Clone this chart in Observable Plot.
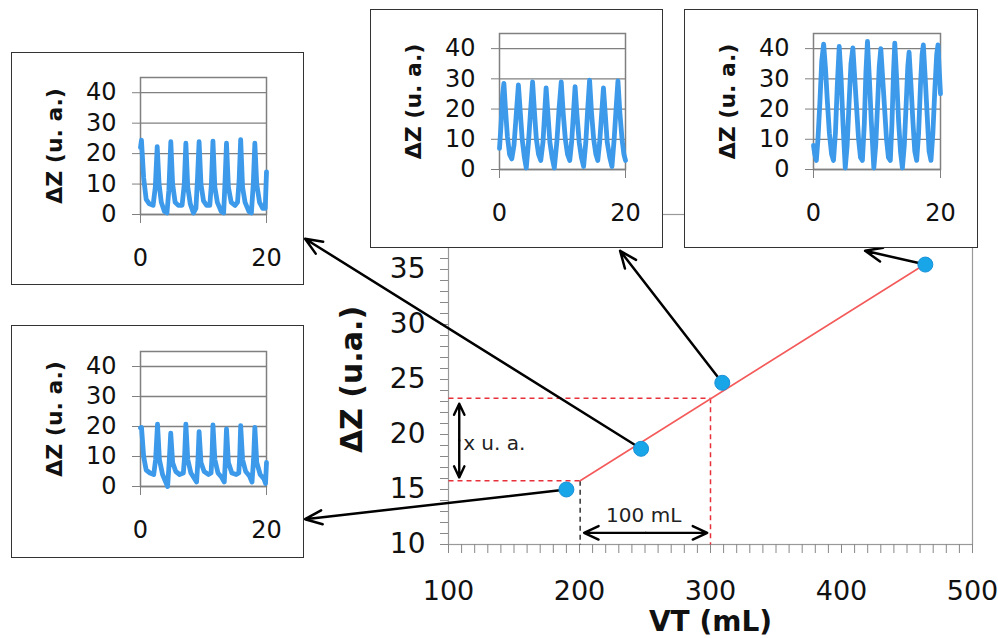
<!DOCTYPE html>
<html><head><meta charset="utf-8">
<script src="https://cdn.jsdelivr.net/npm/d3@7"></script>
<script src="https://cdn.jsdelivr.net/npm/@observablehq/plot@0.6"></script>
<style>
body{margin:0;background:#fff;}
#wrap{position:relative;width:998px;height:638px;overflow:hidden;font-family:"DejaVu Sans",sans-serif;}
#wrap svg{display:block;}
.main{position:absolute;left:0;top:0;}
.inset{position:absolute;background:#fff;outline:1.5px solid #333;outline-offset:-1px;}
</style></head><body><div id="wrap"></div>
<script>
// ---- main chart data ----
const vtPoints = [190, 247, 309, 464];
const dzPoints = [15.0, 18.7, 24.7, 35.45];
const fitVT = [200.5, 464];
const fitDZ = [15.8, 35.5];
const guideVT = [200.5, 300];
const guideDZ = [15.8, 23.3];
const arrowTipVT = [-9.5, -9.5, 231, 418];
const arrowTipDZ = [12.3, 37.8, 36.7, 36.7];
const xTicks = [100, 200, 300, 400, 500];
const yTicks = [10, 15, 20, 25, 30, 35];
const spanDZ = [16.1, 22.8];   // "x u. a." double arrow
const spanDZAt = 108.2;
const spanVT = [203.5, 297.5]; // "100 mL" double arrow
const spanVTAt = 11.06;

// ---- inset data (time s, ΔZ u.a.) ----
const insetXTicks = [0, 20];
const insetYTicks = [0, 10, 20, 30, 40];
const sigTopLeft = [[0,22],[0.15,24.4],[0.5,12],[0.9,5],[1.4,3.5],[2.0,3],[2.35,9],[2.65,22.3],[2.95,10],[3.3,4],[3.8,1],[4.2,0.5],[4.5,8],[4.81,23.9],[5.1,10],[5.5,4],[6.0,3],[6.6,3],[6.95,10],[7.2,23.4],[7.5,9],[7.9,3.5],[8.4,0.5],[8.8,2],[9.05,12],[9.3,23.9],[9.6,10],[10.0,4.5],[10.5,3],[11.0,3],[11.25,10],[11.5,24.1],[11.8,9],[12.2,4],[12.8,1],[13.2,0.5],[13.4,10],[13.65,23.4],[13.95,9],[14.4,4],[15.0,3],[15.4,4],[15.65,11],[15.9,24.6],[16.2,9],[16.6,4],[17.2,1],[17.6,0.5],[17.9,10],[18.15,23.4],[18.45,10],[18.9,4],[19.4,2],[19.8,2],[20,14]];
const sigBottomLeft = [[0,19.5],[0.16,19.7],[0.5,10],[0.9,5.5],[1.5,4.5],[2.1,4],[2.4,9],[2.7,20.8],[3.0,9],[3.5,4],[4.0,1.5],[4.3,0],[4.55,8],[4.8,17.8],[5.1,8],[5.6,5],[6.2,4],[6.8,4.5],[7.0,10],[7.2,20.8],[7.5,9],[8.0,4.5],[8.6,2.5],[8.9,1.5],[9.1,8],[9.3,18.3],[9.6,8],[10.1,5],[10.8,4],[11.2,4.5],[11.35,10],[11.5,20.5],[11.8,9],[12.3,4.5],[12.9,3],[13.3,1.5],[13.45,8],[13.65,19.2],[13.95,8],[14.5,4.5],[15.2,4],[15.6,4.5],[15.75,10],[15.9,20.3],[16.2,9],[16.7,5],[17.3,3.5],[17.7,1.5],[17.95,9],[18.15,19.7],[18.45,8],[19.0,4],[19.6,2.5],[19.85,1],[20,8]];
const sigTopMid = [[0,7],[0.25,15],[0.5,25],[0.7,28.5],[0.95,20],[1.25,11],[1.6,5],[1.95,3.5],[2.3,8],[2.65,18],[3.0,28],[3.3,19],[3.6,10],[3.95,4],[4.25,0.5],[4.6,9],[4.95,20],[5.25,29],[5.55,19],[5.85,10],[6.2,5],[6.55,3],[6.9,9],[7.15,18],[7.4,27],[7.7,18],[8.0,9],[8.35,4],[8.7,0.5],[9.1,9],[9.45,20],[9.8,29],[10.1,19],[10.45,10],[10.8,5],[11.15,3],[11.45,9],[11.75,19],[12.0,27.4],[12.3,18],[12.65,9],[13.0,4],[13.35,1],[13.7,9],[14.0,20],[14.3,29.6],[14.6,19],[14.95,10],[15.3,5],[15.6,3],[15.9,9],[16.2,18],[16.5,27],[16.8,18],[17.1,9],[17.5,4],[17.85,1],[18.2,10],[18.5,20],[18.8,29.3],[19.1,19],[19.45,10],[19.75,5],[20,3]];
const sigTopRight = [[0,8],[0.2,5],[0.45,3],[0.7,10],[1.0,22],[1.3,36],[1.6,41.5],[1.9,33],[2.2,22],[2.5,12],[2.85,5],[3.15,3],[3.45,12],[3.75,28],[4.05,40.7],[4.35,30],[4.65,15],[5.0,0.5],[5.3,8],[5.6,22],[5.9,35],[6.2,40.2],[6.5,30],[6.8,20],[7.1,10],[7.4,4],[7.7,3],[8.0,15],[8.25,32],[8.5,42.4],[8.8,30],[9.1,16],[9.5,0.5],[9.8,8],[10.1,22],[10.35,34],[10.6,40],[10.9,30],[11.2,20],[11.5,10],[11.8,4],[12.1,3],[12.35,15],[12.6,32],[12.8,41.8],[13.1,30],[13.4,16],[13.7,6],[14.0,0.5],[14.3,8],[14.6,22],[14.85,34],[15.05,38.8],[15.35,28],[15.65,16],[15.95,6],[16.25,3],[16.55,12],[16.85,28],[17.1,38],[17.3,41.2],[17.6,30],[17.9,18],[18.2,6],[18.5,3],[18.8,12],[19.1,26],[19.4,38],[19.6,41.2],[19.8,33],[20,25]];

const FONT = "DejaVu Sans";
const wrap = document.getElementById("wrap");

// ---- main chart ----
const pts = vtPoints.map((x, i) => ({x, y: dzPoints[i]}));
const fit = fitVT.map((x, i) => ({x, y: fitDZ[i]}));
const arrows = pts.map((p, i) => ({x1: p.x, y1: p.y, x2: arrowTipVT[i], y2: arrowTipDZ[i]}));
const xMin = xTicks[0];
const yMin = yTicks[0];
const midDZ = (spanDZ[0] + spanDZ[1]) / 2;
const midVT = (spanVT[0] + spanVT[1]) / 2;

const main = Plot.plot({
  width: 998, height: 638,
  marginLeft: 448, marginRight: 26, marginTop: 214, marginBottom: 94,
  x: {domain: [100, 500], label: null},
  y: {domain: [10, 40], label: null},
  style: {fontFamily: FONT, background: "transparent", color: "#111", overflow: "visible"},
  marks: [
    Plot.frame({stroke: "#999", strokeWidth: 1.2}),
    Plot.axisX(d3.range(100, 501, 10), {tickSize: 9, tickFormat: () => "", stroke: "#888", label: null}),
    Plot.axisX(xTicks, {tickSize: 0, tickPadding: 36, fontSize: 27, label: null}),
    Plot.axisY(d3.range(10, 41, 1), {tickSize: 8, tickFormat: () => "", stroke: "#888", label: null}),
    Plot.axisY(yTicks, {tickSize: 0, tickPadding: 23, fontSize: 28, label: null}),
    // guide lines
    Plot.link([{x1: xMin, y1: guideDZ[0], x2: guideVT[0], y2: guideDZ[0]}, {x1: xMin, y1: guideDZ[1], x2: guideVT[1], y2: guideDZ[1]}, {x1: guideVT[1], y1: guideDZ[1], x2: guideVT[1], y2: yMin}],
      {x1: "x1", y1: "y1", x2: "x2", y2: "y2", stroke: "#e8303a", strokeWidth: 1.5, strokeDasharray: "5,4"}),
    Plot.link([{x1: guideVT[0], y1: guideDZ[0], x2: guideVT[0], y2: yMin}],
      {x1: "x1", y1: "y1", x2: "x2", y2: "y2", stroke: "#333", strokeWidth: 1.5, strokeDasharray: "5,4"}),
    // fit line
    Plot.line(fit, {x: "x", y: "y", stroke: "#f45a5a", strokeWidth: 1.6}),
    // double arrows
    Plot.arrow([{y2: spanDZ[0]}, {y2: spanDZ[1]}], {x1: () => spanDZAt, x2: () => spanDZAt, y1: () => midDZ, y2: "y2", stroke: "#000", strokeWidth: 2.4, headLength: 10, headAngle: 50}),
    Plot.arrow([{x2: spanVT[0]}, {x2: spanVT[1]}], {y1: () => spanVTAt, y2: () => spanVTAt, x1: () => midVT, x2: "x2", stroke: "#000", strokeWidth: 2.4, headLength: 10, headAngle: 50}),
    Plot.text(["x u. a."], {x: () => 111.2, y: () => 19.2, textAnchor: "start", fontSize: 20, fill: "#222"}),
    Plot.text(["100 mL"], {x: () => 249, y: () => 12.6, fontSize: 20, fill: "#222"}),
    // pointer arrows to insets
    Plot.arrow(arrows, {x1: "x1", y1: "y1", x2: "x2", y2: "y2", stroke: "#000", strokeWidth: 2.5, headLength: 11, headAngle: 45}),
    // data points
    Plot.dot(pts, {x: "x", y: "y", r: 7.5, fill: "#18a6e8", stroke: "#1a90d8", strokeWidth: 1}),
    // axis titles
    Plot.text(["VT (mL)"], {frameAnchor: "bottom", dy: 78, textAnchor: "middle", lineAnchor: "middle", fontSize: 28, fontWeight: "bold", fill: "#111"}),
    Plot.text(["ΔZ (u.a.)"], {frameAnchor: "left", dx: -96, rotate: -90, textAnchor: "middle", lineAnchor: "middle", fontSize: 30, fontWeight: "bold", fill: "#111"})
  ]
});
main.classList.add("main");
wrap.appendChild(main);

// ---- insets ----
function inset(sig, box) {
  const {left, top, w, h, mT, plotH} = box;
  const mL = 129, mR = 38;
  const mB = h - mT - plotH;
  const data = sig.map(([t, v]) => ({t, v}));
  const p = Plot.plot({
    width: w, height: h,
    marginLeft: mL, marginRight: mR, marginTop: mT, marginBottom: mB,
    x: {domain: [0, 20], label: null},
    y: {domain: [0, 45], label: null},
    style: {fontFamily: FONT, background: "#fff", color: "#111", overflow: "visible"},
    marks: [
      Plot.gridY(insetYTicks, {stroke: "#808080", strokeOpacity: 1, strokeWidth: 1.3}),
      Plot.axisY(insetYTicks, {tickSize: 8, tickPadding: 16, fontSize: 24, stroke: "#808080", label: null}),
      Plot.axisX(insetXTicks, {tickSize: 9, tickPadding: 25, fontSize: 24, stroke: "#808080", label: null}),
      Plot.frame({stroke: "#808080", strokeWidth: 1.5}),
      Plot.line(data, {x: "t", y: "v", stroke: "#3d9aea", strokeWidth: 4.8, strokeLinejoin: "round", strokeLinecap: "round"}),
      Plot.text(["ΔZ (u. a.)"], {frameAnchor: "left", dx: -86, rotate: -90, textAnchor: "middle", lineAnchor: "middle", fontSize: 22, fontWeight: "bold", fill: "#111"})
    ]
  });
  const div = document.createElement("div");
  div.className = "inset";
  div.style.left = left + "px";
  div.style.top = top + "px";
  div.style.width = w + "px";
  div.style.height = h + "px";
  div.appendChild(p);
  wrap.appendChild(div);
}

inset(sigTopLeft,    {left: 11, top: 52, w: 293, h: 233, mT: 25, plotH: 137});
inset(sigBottomLeft, {left: 11, top: 325, w: 293, h: 233, mT: 26, plotH: 135});
inset(sigTopMid,     {left: 370, top: 9, w: 293, h: 239, mT: 24, plotH: 136});
inset(sigTopRight,   {left: 684, top: 9, w: 294, h: 239, mT: 24, plotH: 136});
</script></body></html>
